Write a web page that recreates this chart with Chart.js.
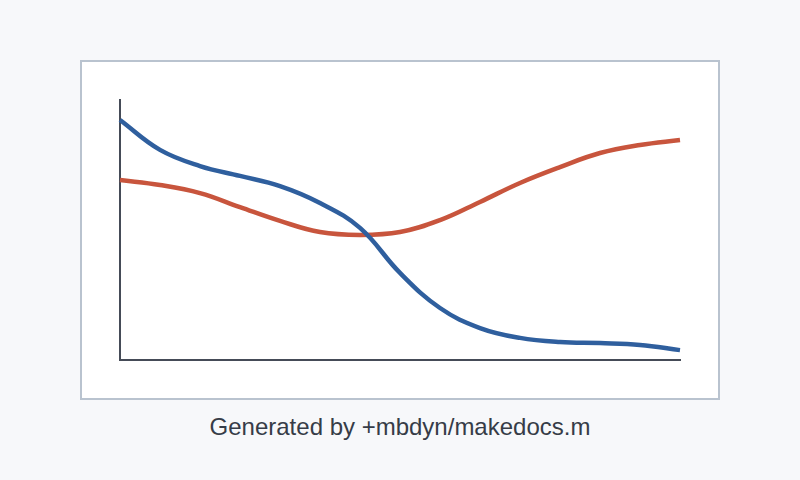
<!DOCTYPE html>
<html>
<head>
<meta charset="utf-8">
<script src="https://cdn.jsdelivr.net/npm/chart.js@4"></script>
<style>
  html, body { margin: 0; padding: 0; }
  body { width: 800px; height: 480px; background: #f7f8fa; position: relative; overflow: hidden; font-family: "Liberation Sans", Arial, sans-serif; }
  #frame { position: absolute; left: 80px; top: 60px; width: 636px; height: 336px; border: 2px solid #b9c3cf; background: #fff; }
  #wrap { position: absolute; left: 80px; top: 60px; width: 640px; height: 340px; }
  #caption { position: absolute; left: 0; width: 800px; top: 412px; text-align: center; font-size: 24px; line-height: 30px; color: #363c47; }
</style>
</head>
<body>
<div id="frame"></div>
<div id="wrap"><canvas id="c" width="640" height="340"></canvas></div>
<div id="caption">Generated by +mbdyn/makedocs.m</div>
<script>
// sample positions along the x axis
const xs = ['0', '1', '2', '3', '4', '5', '6', '7', '8', '9', '10', '11', '12', '13', '14'];
// blue curve (falls off after the middle)
const blueVals = [92.3, 80.8, 74.6, 70.8, 66.9, 60.4, 50.8, 33.5, 20.0, 12.3, 8.5, 6.9, 6.5, 5.8, 3.8];
// red curve (dips then rises)
const redVals = [69.2, 67.3, 64.2, 58.8, 53.5, 49.2, 48.1, 49.2, 53.8, 60.8, 68.1, 74.2, 79.6, 82.7, 84.6];

const axisColor = '#454b57';

new Chart(document.getElementById('c').getContext('2d'), {
    type: 'line',
    data: {
        labels: xs,
        datasets: [
            {
                data: blueVals,
                borderColor: '#2f5f9e',
                borderWidth: 4.5,
                pointRadius: 0,
                tension: 0.4,
                fill: false
            },
            {
                data: redVals,
                borderColor: '#c8553d',
                borderWidth: 4.5,
                pointRadius: 0,
                tension: 0.4,
                fill: false
            }
        ]
    },
    options: {
        responsive: false,
        animation: false,
        events: [],
        layout: { padding: { left: 32, right: 40, top: 40, bottom: 32 } },
        plugins: { legend: { display: false }, tooltip: { enabled: false } },
        scales: {
            x: {
                offset: false,
                grid: { display: false },
                ticks: { display: false },
                border: { display: true, color: axisColor, width: 2 }
            },
            y: {
                min: 0,
                max: 100,
                grid: { display: false },
                ticks: { display: false },
                border: { display: true, color: axisColor, width: 2 }
            }
        }
    }
});
</script>
</body>
</html>
